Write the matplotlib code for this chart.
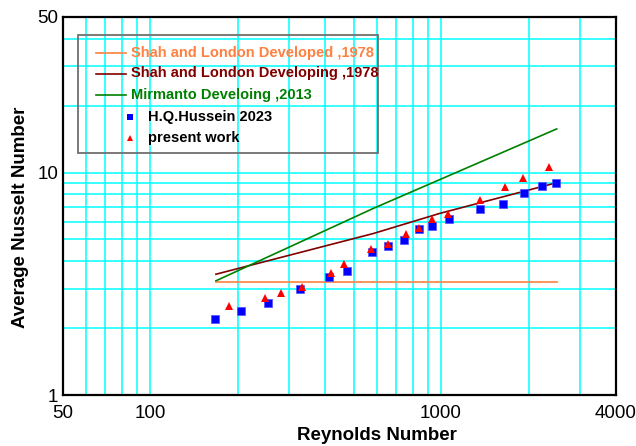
import matplotlib
matplotlib.use("Agg")
import matplotlib.pyplot as plt
from matplotlib.patches import Rectangle
from matplotlib.ticker import FixedLocator, NullFormatter

plt.rcParams['font.family'] = ['Liberation Sans', 'DejaVu Sans']

# Correlation curves (Reynolds number vs average Nusselt number)
re_developed = [168, 2500]
nu_developed = [3.21, 3.21]

re_developing = [168, 585, 990, 2500]
nu_developing = [3.49, 5.32, 6.55, 9.0]

re_mirmanto = [168, 585, 2500]
nu_mirmanto = [3.26, 6.9, 15.7]

# H.Q.Hussein 2023 data
re_hussein = [167, 205, 254, 326, 412, 474, 580, 657, 744, 838, 933,
              1065, 1358, 1630, 1933, 2225, 2492]
nu_hussein = [2.20, 2.39, 2.59, 3.00, 3.38, 3.60, 4.38, 4.67, 4.97, 5.57,
              5.75, 6.16, 6.88, 7.20, 8.06, 8.67, 8.94]

# Present work data
re_present = [187, 247, 281, 332, 419, 463, 573, 655, 756, 838, 933,
              1059, 1361, 1660, 1913, 2358]
nu_present = [2.51, 2.74, 2.88, 3.06, 3.53, 3.88, 4.55, 4.79, 5.28, 5.63,
              6.16, 6.51, 7.55, 8.58, 9.48, 10.59]

x_ticks = [50, 100, 1000, 4000]
y_ticks = [1, 10, 50]
x_grid = [60, 70, 80, 90, 200, 300, 400, 500, 600, 700, 800, 900, 2000, 3000]
y_grid = [2, 3, 4, 5, 6, 7, 8, 9, 20, 30, 40]

labels = ["Shah and London Developed ,1978",
          "Shah and London Developing ,1978",
          "Mirmanto Develoing ,2013",
          "H.Q.Hussein 2023",
          "present work"]

c_developed = '#FF8040'
c_developing = '#800000'
c_mirmanto = '#008000'
c_hussein = '#0000FF'
c_present = '#FF0000'

fig = plt.figure(figsize=(6.36, 4.46), dpi=100)
ax = fig.add_axes([63 / 636, 51 / 446, 553 / 636, 378 / 446])
ax.set_xscale('log')
ax.set_yscale('log')
ax.set_xlim(50, 4000)
ax.set_ylim(1, 50)

ax.xaxis.set_major_locator(FixedLocator(x_ticks))
ax.set_xticklabels([str(v) for v in x_ticks])
ax.yaxis.set_major_locator(FixedLocator(y_ticks))
ax.set_yticklabels([str(v) for v in y_ticks])
ax.xaxis.set_minor_locator(FixedLocator(x_grid))
ax.yaxis.set_minor_locator(FixedLocator(y_grid))
ax.xaxis.set_minor_formatter(NullFormatter())
ax.yaxis.set_minor_formatter(NullFormatter())
ax.tick_params(axis='both', which='both', length=0, labelsize=13.5)
ax.tick_params(axis='x', pad=7)
ax.tick_params(axis='y', pad=3.5)

ax.grid(True, which='both', color='#00FFFF', linewidth=1.1, zorder=0)
ax.set_axisbelow(True)
for s in ax.spines.values():
    s.set_linewidth(1.6)
    s.set_color('black')

ax.plot(re_developed, nu_developed, color=c_developed, lw=1.2, zorder=3)
ax.plot(re_developing, nu_developing, color=c_developing, lw=1.2, zorder=3)
ax.plot(re_mirmanto, nu_mirmanto, color=c_mirmanto, lw=1.2, zorder=3)
ax.plot(re_hussein, nu_hussein, 's', color=c_hussein, ms=5.2, mec='#5050FF',
        mew=0.5, zorder=4)
ax.plot(re_present, nu_present, '^', color=c_present, ms=5.2, mew=0, zorder=5)

ax.set_xlabel("Reynolds Number", fontsize=13.5, fontweight='bold')
ax.set_ylabel("Average Nusselt Number", fontsize=13.5, fontweight='bold')
ax.xaxis.set_label_coords(0.568, -0.085)
ax.yaxis.set_label_coords(-0.062, 0.47)

# Legend drawn as a box with handles and texts in axes coordinates
def fx(px):
    return (px - 63) / 553

def fy(py):
    return (395 - py) / 378

T = ax.transAxes
ax.add_patch(Rectangle((fx(78), fy(153)), fx(378) - fx(78), fy(35) - fy(153),
                       transform=T, fill=False, edgecolor='#707070',
                       linewidth=1.3, zorder=6))
rows = [52.7, 73.5, 95, 117, 138]
line_colors = [c_developed, c_developing, c_mirmanto]
for i, col in enumerate(line_colors):
    ax.plot([fx(96), fx(126)], [fy(rows[i])] * 2, color=col, lw=1.2,
            transform=T, zorder=6)
    ax.text(fx(131), fy(rows[i]), labels[i], color=col, fontsize=10.5,
            fontweight='bold', va='center', ha='left', transform=T, zorder=6)
ax.plot([fx(130)], [fy(rows[3])], 's', color=c_hussein, ms=4, mew=0,
        transform=T, zorder=6)
ax.text(fx(148), fy(rows[3]), labels[3], color='black', fontsize=10.5,
        fontweight='bold', va='center', ha='left', transform=T, zorder=6)
ax.plot([fx(130)], [fy(rows[4])], '^', color=c_present, ms=4, mew=0,
        transform=T, zorder=6)
ax.text(fx(148), fy(rows[4]), labels[4], color='black', fontsize=10.5,
        fontweight='bold', va='center', ha='left', transform=T, zorder=6)

fig.savefig("out.png", dpi=100)
